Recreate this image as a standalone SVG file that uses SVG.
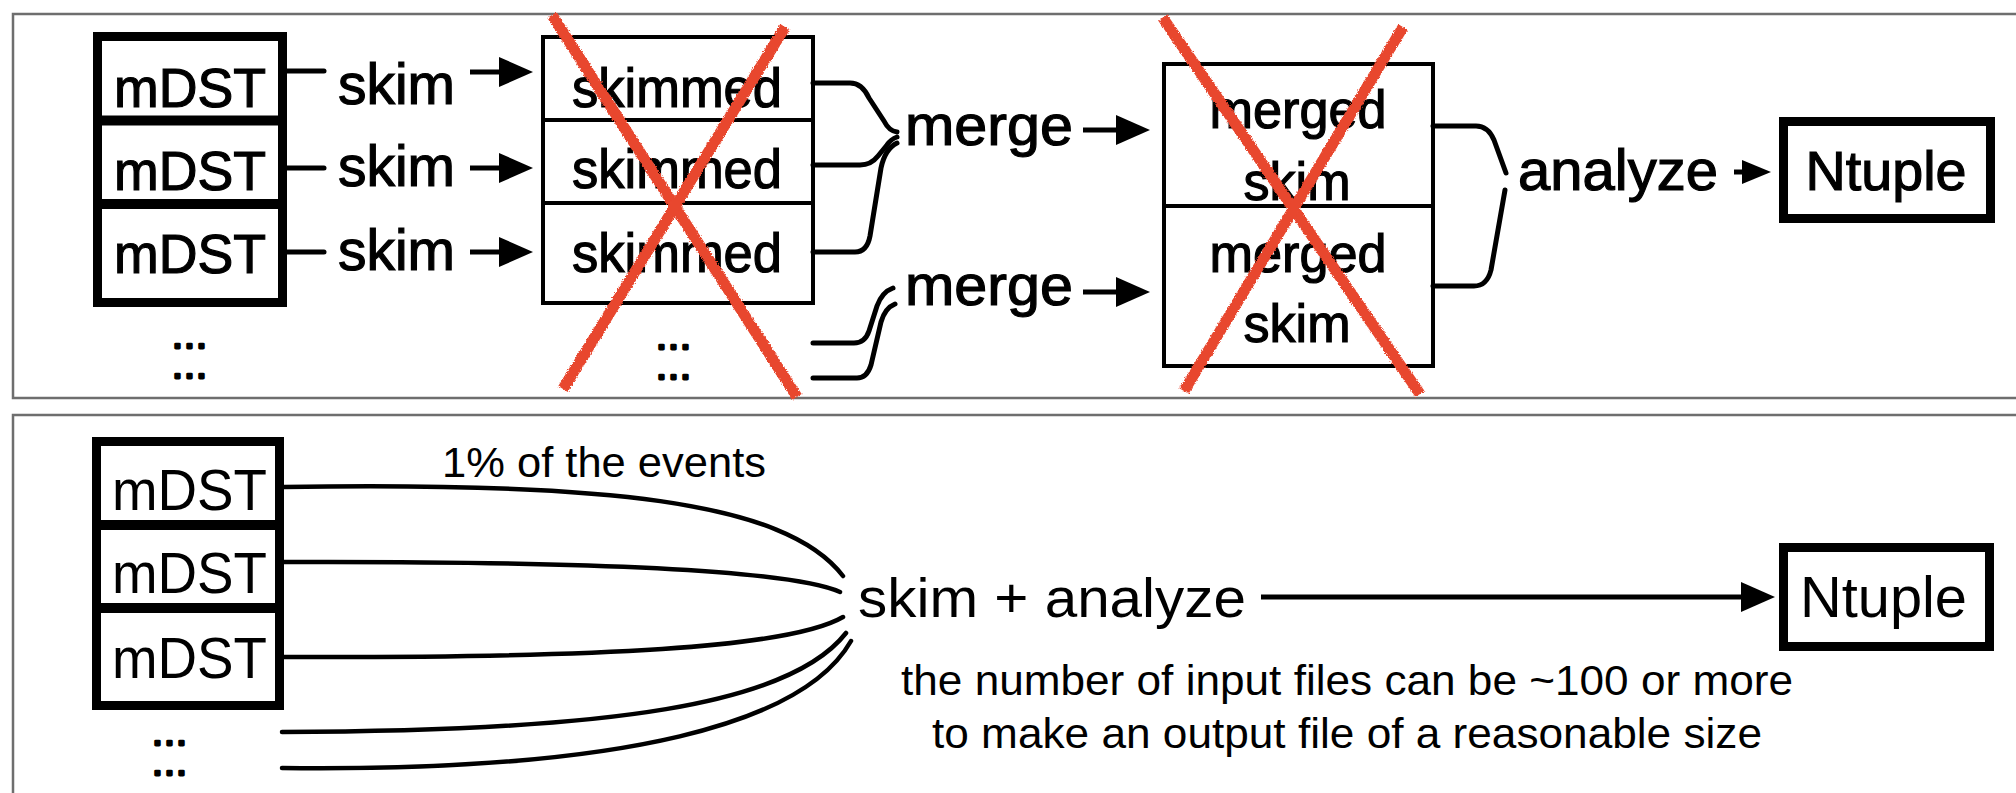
<svg xmlns="http://www.w3.org/2000/svg" width="2016" height="793" viewBox="0 0 2016 793">
  <defs>
    <style>
      .panel{fill:none;stroke:#6e6e6e;stroke-width:2.5}
      .thick{fill:#fff;stroke:#000;stroke-width:9}
      .thin{fill:#fff;stroke:#000;stroke-width:4}
      .sep-thick{stroke:#000;stroke-width:10}
      .sep-thin{stroke:#000;stroke-width:4}
      .lbl{font-family:"Liberation Sans",Arial,Helvetica,sans-serif;fill:#000;text-anchor:middle}
      .heavy{stroke:#000;stroke-width:1.2}
      .dots{font-family:"Liberation Sans",Arial,sans-serif;font-weight:bold;font-size:25px;letter-spacing:5px;fill:#000;stroke:#000;stroke-width:3;stroke-linejoin:round;text-anchor:middle}
      .wire{fill:none;stroke:#000;stroke-width:5;stroke-linecap:round;stroke-linejoin:round}
      .fan{fill:none;stroke:#000;stroke-width:4.5;stroke-linecap:round}
      .arrow{fill:none;stroke:#000;stroke-width:5;marker-end:url(#head)}
      .arrow-s{fill:none;stroke:#000;stroke-width:5;marker-end:url(#head-s)}
      .cross{fill:none;stroke:#e8472f;stroke-width:11;stroke-linecap:butt;filter:url(#rough)}
    </style>
    <marker id="head" markerUnits="userSpaceOnUse" markerWidth="34" markerHeight="30" viewBox="0 0 34 30" refX="1" refY="15" orient="auto">
      <path d="M0,0 L34,15 L0,30 Z" fill="#000"/>
    </marker>
    <marker id="head-s" markerUnits="userSpaceOnUse" markerWidth="29" markerHeight="24" viewBox="0 0 29 24" refX="1" refY="12" orient="auto">
      <path d="M0,0 L29,12 L0,24 Z" fill="#000"/>
    </marker>
    <!-- crayon-like edge for the hand-drawn crosses -->
    <filter id="rough" x="-20%" y="-10%" width="140%" height="120%">
      <feTurbulence type="fractalNoise" baseFrequency="0.8" numOctaves="2" seed="3" result="n"/>
      <feDisplacementMap in="SourceGraphic" in2="n" scale="3.5" xChannelSelector="R" yChannelSelector="G"/>
    </filter>
  </defs>

  <rect width="2016" height="793" fill="#fff"/>

  <!-- panel frames (open on the right / bottom) -->
  <g id="frames">
    <rect class="panel" x="13" y="14" width="2040" height="384"/>
    <rect class="panel" x="13" y="415" width="2040" height="420"/>
  </g>

  <!-- ===== top workflow ===== -->
  <g id="top-mdst">
    <rect class="thick" x="97.5" y="36.5" width="185" height="266"/>
    <line class="sep-thick" x1="93" y1="120.5" x2="287" y2="120.5"/>
    <line class="sep-thick" x1="93" y1="204" x2="287" y2="204"/>
    <text class="lbl heavy" x="190" y="107" font-size="56" textLength="152" lengthAdjust="spacingAndGlyphs">mDST</text>
    <text class="lbl heavy" x="190" y="190" font-size="56" textLength="152" lengthAdjust="spacingAndGlyphs">mDST</text>
    <text class="lbl heavy" x="190" y="273" font-size="56" textLength="152" lengthAdjust="spacingAndGlyphs">mDST</text>
    <text class="dots" x="192" y="348">...</text>
    <text class="dots" x="192" y="378">...</text>
  </g>

  <g id="top-skim-labels">
    <text class="lbl heavy" x="396.5" y="104" font-size="57" textLength="117" lengthAdjust="spacingAndGlyphs">skim</text>
    <text class="lbl heavy" x="396.5" y="186" font-size="57" textLength="117" lengthAdjust="spacingAndGlyphs">skim</text>
    <text class="lbl heavy" x="396.5" y="270" font-size="57" textLength="117" lengthAdjust="spacingAndGlyphs">skim</text>
  </g>

  <g id="top-skimmed">
    <rect class="thin" x="543" y="37" width="270" height="266"/>
    <line class="sep-thin" x1="543" y1="120" x2="813" y2="120"/>
    <line class="sep-thin" x1="543" y1="203" x2="813" y2="203"/>
    <text class="lbl heavy" x="677" y="107" font-size="56" textLength="210" lengthAdjust="spacingAndGlyphs">skimmed</text>
    <text class="lbl heavy" x="677" y="188" font-size="56" textLength="210" lengthAdjust="spacingAndGlyphs">skimmed</text>
    <text class="lbl heavy" x="677" y="272" font-size="56" textLength="210" lengthAdjust="spacingAndGlyphs">skimmed</text>
    <text class="dots" x="676" y="349">...</text>
    <text class="dots" x="676" y="379">...</text>
  </g>

  <g id="top-merge-labels">
    <text class="lbl heavy" x="989" y="145" font-size="58" textLength="168" lengthAdjust="spacingAndGlyphs">merge</text>
    <text class="lbl heavy" x="989" y="305" font-size="58" textLength="168" lengthAdjust="spacingAndGlyphs">merge</text>
  </g>

  <g id="top-merged">
    <rect class="thin" x="1164" y="64" width="269" height="302"/>
    <line class="sep-thin" x1="1164" y1="206" x2="1433" y2="206"/>
    <text class="lbl heavy" x="1298" y="128" font-size="54" textLength="177" lengthAdjust="spacingAndGlyphs">merged</text>
    <text class="lbl heavy" x="1297" y="200" font-size="54" textLength="107" lengthAdjust="spacingAndGlyphs">skim</text>
    <text class="lbl heavy" x="1298" y="272" font-size="54" textLength="177" lengthAdjust="spacingAndGlyphs">merged</text>
    <text class="lbl heavy" x="1297" y="342" font-size="54" textLength="107" lengthAdjust="spacingAndGlyphs">skim</text>
  </g>

  <g id="top-analyze-label">
    <text class="lbl heavy" x="1618" y="190" font-size="58" textLength="200" lengthAdjust="spacingAndGlyphs">analyze</text>
  </g>

  <g id="top-ntuple">
    <rect class="thick" x="1783.5" y="121.5" width="207" height="97"/>
    <text class="lbl heavy" x="1886" y="190" font-size="56" textLength="161" lengthAdjust="spacingAndGlyphs">Ntuple</text>
  </g>

  <g id="top-connectors">
    <line class="wire" x1="287" y1="71" x2="324" y2="71" stroke-linecap="butt"/>
    <line class="wire" x1="287" y1="168" x2="324" y2="168" stroke-linecap="butt"/>
    <line class="wire" x1="287" y1="252" x2="324" y2="252" stroke-linecap="butt"/>
    <path class="arrow" d="M470,72 H500"/>
    <path class="arrow" d="M470,168 H500"/>
    <path class="arrow" d="M470,252 H500"/>
    <!-- skimmed -> merge braces -->
    <path class="wire" d="M813,83 H850 Q862,83 869,98 L884,121 Q889,131 897,132"/>
    <path class="wire" d="M813,165 H860 Q871,165 878,156 L887,145 Q891,139 897,137"/>
    <path class="wire" d="M813,252 H855 Q867,252 870,236 L881,168 Q885,149 897,143"/>
    <path class="wire" d="M813,343 H854 Q865,343 869,331 L877,306 Q882,292 893,288"/>
    <path class="wire" d="M813,378 H857 Q867,378 871,365 L881,322 Q885,308 895,304"/>
    <path class="arrow" d="M1083,130 H1117"/>
    <path class="arrow" d="M1083,292 H1117"/>
    <!-- merged -> analyze brace -->
    <path class="wire" d="M1433,126 H1476 Q1488,126 1494,140 L1506,173"/>
    <path class="wire" d="M1433,286 H1474 Q1487,286 1491,270 L1505,190"/>
    <path class="arrow-s" d="M1734,172 H1743"/>
  </g>

  <!-- red crosses over the intermediate files -->
  <g id="crosses">
    <line class="cross" x1="552" y1="15" x2="797" y2="397"/>
    <line class="cross" x1="785" y1="27" x2="563" y2="389"/>
    <line class="cross" x1="1163" y1="18" x2="1420" y2="394"/>
    <line class="cross" x1="1403" y1="27" x2="1184" y2="391"/>
  </g>

  <!-- ===== bottom workflow ===== -->
  <g id="bottom-mdst">
    <rect class="thick" x="96.5" y="441.5" width="183" height="264"/>
    <line class="sep-thick" x1="92" y1="525" x2="284" y2="525"/>
    <line class="sep-thick" x1="92" y1="608" x2="284" y2="608"/>
    <text class="lbl" x="189.5" y="510" font-size="58" textLength="155" lengthAdjust="spacingAndGlyphs">mDST</text>
    <text class="lbl" x="189.5" y="593" font-size="58" textLength="155" lengthAdjust="spacingAndGlyphs">mDST</text>
    <text class="lbl" x="189.5" y="678" font-size="58" textLength="155" lengthAdjust="spacingAndGlyphs">mDST</text>
    <text class="dots" x="172" y="745">...</text>
    <text class="dots" x="172" y="775">...</text>
  </g>

  <g id="bottom-fan">
    <path class="fan" d="M284,487 C600,482 785,500 843,576"/>
    <path class="fan" d="M284,562 C600,561 790,570 840,592"/>
    <path class="fan" d="M284,657 C600,658 790,648 843,617"/>
    <path class="fan" d="M282,732 C610,731 790,705 846,633"/>
    <path class="fan" d="M282,768 C630,772 805,722 851,641"/>
  </g>

  <g id="bottom-labels">
    <text class="lbl" x="604" y="477" font-size="42" textLength="324" lengthAdjust="spacingAndGlyphs">1% of the events</text>
    <text class="lbl" x="1052" y="617" font-size="56" textLength="388" lengthAdjust="spacingAndGlyphs">skim + analyze</text>
    <text class="lbl" x="1347" y="695" font-size="43" textLength="892" lengthAdjust="spacingAndGlyphs">the number of input files can be ~100 or more</text>
    <text class="lbl" x="1347" y="748" font-size="43" textLength="830" lengthAdjust="spacingAndGlyphs">to make an output file of a reasonable size</text>
  </g>

  <g id="bottom-arrow">
    <path class="arrow" d="M1261,597 H1742"/>
  </g>

  <g id="bottom-ntuple">
    <rect class="thick" x="1783.5" y="547.5" width="206" height="99"/>
    <text class="lbl" x="1883.5" y="617" font-size="58" textLength="167" lengthAdjust="spacingAndGlyphs">Ntuple</text>
  </g>
</svg>
